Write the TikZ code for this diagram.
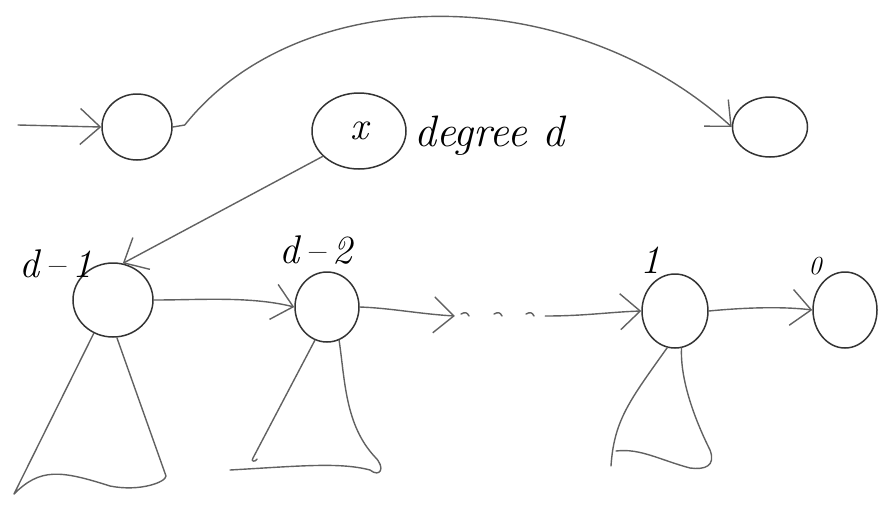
\documentclass[tikz,border=0pt]{standalone}
\usepackage{fontspec}
\usetikzlibrary{shapes.geometric,arrows.meta}
\begin{document}
\begin{tikzpicture}[x=1pt,y=-1pt,
  >={Straight Barb[length=20pt,width=36pt]},
  ell/.style={ellipse,draw=black!80,line width=1.5pt,inner sep=0pt},
  ink/.style={draw=black!62,line width=1.4pt,line cap=round,line join=round},
  conn/.style={ink,->},
  lab/.style={font=\fontsize{40}{44}\selectfont\itshape,inner sep=0pt}]
\useasboundingbox (0,0) rectangle (883,507);
% nodes
\node[ell,minimum width=70,minimum height=66] (A) at (137,127) {};
\node[ell,minimum width=75,minimum height=60] (B) at (770,127) {};
\node[ell,minimum width=94,minimum height=76,font=\fontsize{40}{44}\selectfont\itshape] (X) at (359,131) {x};
\node[lab,anchor=west,font=\fontsize{44}{48}\selectfont\itshape] (deg) at (414,136) {degree d};
\node[ell,minimum width=80,minimum height=74] (N1) at (113,300) {};
\node[ell,minimum width=64,minimum height=70] (N2) at (327,307) {};
\node[ell,minimum width=66,minimum height=74] (N3) at (675,311) {};
\node[ell,minimum width=64,minimum height=76] (N4) at (845,310) {};
% labels
\node[lab] (L1) at (56,264) {d\,–\,1};
\node[lab] (L2) at (316,250) {d\,–\,2};
\node[lab] (L3) at (650,260) {1};
\node[lab,font=\fontsize{26}{28}\selectfont\itshape] (L4) at (815,266) {0};
\node[minimum width=90,minimum height=12,inner sep=0pt] (dots) at (500,316) {};
\foreach \dx in {-35,-2,30}
  \draw[ink] ([xshift=\dx pt]dots.center) ++(-4,-2) .. controls +(4,-2) and +(-2,-4) .. ++(8,2);
\coordinate (start) at (18,125);
% connectors
\draw[conn] (start) -- (A.west);
\draw[conn] (A.east) -- ++(12,-2) .. controls (300,-20) and (570,-20) .. (B.west);
\draw[conn] (X.215) -- (N1.75);
\draw[conn] (N1.east) .. controls (200,300) and (250,296) .. (N2.west);
\draw[conn] (N2.east) .. controls (390,308) and (420,314) .. (dots.west);
\draw[conn] (dots.east) .. controls (585,316) and (610,312) .. (N3.west);
\draw[conn] (N3.east) .. controls (740,308) and (780,306) .. (N4.west);
% subtrees
\draw[ink] (N1.240) -- (14,494) .. controls (40,468) and (60,470) .. (110,486)
  .. controls (140,492) and (166,482) .. (166,476) -- (117,338);
\draw[ink] (N2.250) -- (253,458) .. controls (250,462) and (256,462) .. (257,459);
\draw[ink] (N2.290) .. controls (345,380) and (345,425) .. (375,457)
  .. controls (386,468) and (380,478) .. (370,470) .. controls (340,462) and (300,466) .. (230,470);
\draw[ink] (N3.258) .. controls (630,400) and (614,420) .. (611,466);
\draw[ink] (N3.280) .. controls (680,380) and (695,420) .. (710,450)
  .. controls (716,466) and (705,470) .. (690,468) .. controls (660,460) and (640,448) .. (616,451);
\end{tikzpicture}
\end{document}
